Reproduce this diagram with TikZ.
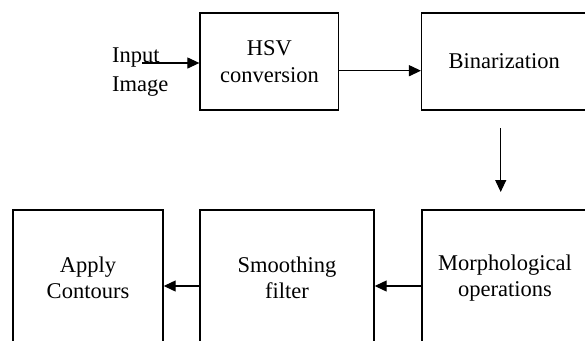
\documentclass[tikz,border=0pt]{standalone}
\usepackage{fontspec}
\setmainfont{Liberation Serif}
\usetikzlibrary{arrows.meta}
\tikzset{
  stage/.style={draw, line width=1.4pt, inner sep=0pt, align=center,
    font=\fontsize{22.5pt}{26.5pt}\selectfont},
  flow/.style={line width=1.2pt, -{Triangle[length=12pt,width=11pt]}},
  lbl/.style={inner sep=0pt, font=\fontsize{22.5pt}{26.5pt}\selectfont}
}
\begin{document}
\begin{tikzpicture}[x=1pt, y=-1pt]
  \useasboundingbox (0,0) rectangle (585,340);
  \clip (0,0) rectangle (585,340);

  % top row
  \node[stage, minimum width=138.7pt, minimum height=97pt] (hsv) at (269.4,61.5) {HSV\\conversion};
  \node[stage, minimum width=165.3pt, minimum height=97pt] (bin) at (504.3,61.5) {Binarization};

  % bottom row (boxes run past the lower edge)
  \node[stage, minimum width=150pt, minimum height=136pt] (apply) at (88,278) {Apply\\Contours};
  \node[stage, minimum width=174pt, minimum height=136pt] (smooth) at (287,278) {Smoothing\\filter};
  \node[stage, minimum width=166pt, minimum height=136pt] (morph) at (505,278) {Morphological\\operations};

  % input label
  \node[lbl, anchor=base west] (in1) at (112,62) {Input};
  \node[lbl, anchor=base west] (in2) at (112,91) {Image};

  \coordinate (src) at (142,63);
  \coordinate (dtop) at (500.7,128);
  \coordinate (dbot) at (500.7,192);

  \draw[flow] (src) -- (src -| hsv.west);
  \draw[flow] ([yshift=-9.2pt]hsv.east) -- ([yshift=-9.2pt]hsv.east -| bin.west);
  \draw[flow] (dtop) -- (dbot);
  \draw[flow] ([yshift=-8pt]morph.west) -- ([yshift=-8pt]morph.west -| smooth.east);
  \draw[flow] ([yshift=-8pt]smooth.west) -- ([yshift=-8pt]smooth.west -| apply.east);
\end{tikzpicture}
\end{document}
